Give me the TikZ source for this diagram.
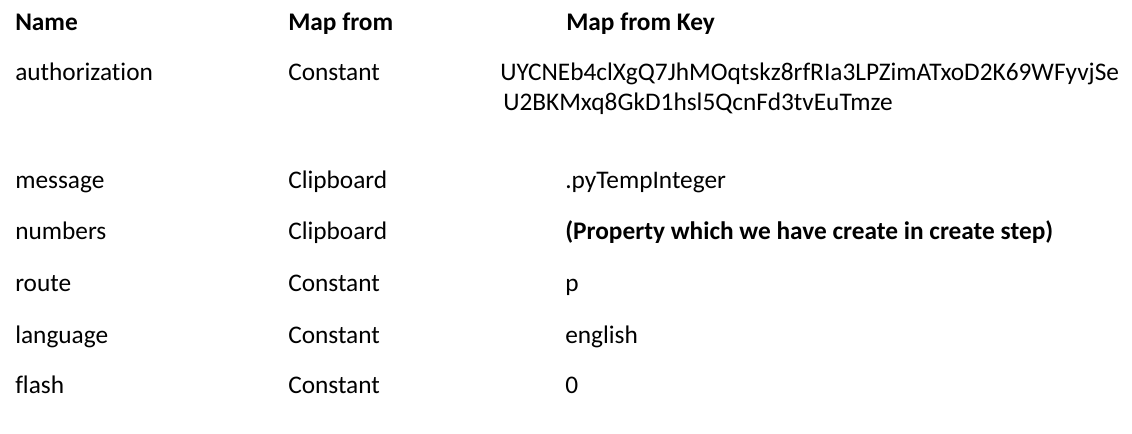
\documentclass[tikz,border=0pt]{standalone}
\usepackage{fontspec}
\setmainfont{Carlito}[RawFeature={-liga}]
\begin{document}
\begin{tikzpicture}[x=0.75pt,y=-0.75pt,
  cell/.style={anchor=base west,inner sep=0pt,font=\fontsize{19}{23}\selectfont},
  head/.style={cell,font=\fontsize{19}{23}\selectfont\bfseries}]
\useasboundingbox[fill=white] (0,0) rectangle (1132,433);
\node[head] (h1) at (15,30) {Name};
\node[head] (h2) at (288,30) {Map from};
\node[head] (h3) at (566,30) {Map from Key};
\node[cell] (n1) at (15,80) {authorization};
\node[cell] (m1) at (288,80) {Constant};
\node[cell] (k1) at (500,80) {UYCNEb4clXgQ7JhMOqtskz8rfRIa3LPZimATxoD2K69WFyvjSe};
\node[cell] (k1b) at (503,110) {U2BKMxq8GkD1hsl5QcnFd3tvEuTmze};
\node[cell] (n2) at (15,188) {message};
\node[cell] (m2) at (288,188) {Clipboard};
\node[cell] (k2) at (565,188) {.pyTempInteger};
\node[cell] (n3) at (15,239) {numbers};
\node[cell] (m3) at (288,239) {Clipboard};
\node[head] (k3) at (565,239) {(Property which we have create in create step)};
\node[cell] (n4) at (15,291) {route};
\node[cell] (m4) at (288,291) {Constant};
\node[cell] (k4) at (565,291) {p};
\node[cell] (n5) at (15,343) {language};
\node[cell] (m5) at (288,343) {Constant};
\node[cell] (k5) at (565,343) {english};
\node[cell] (n6) at (15,393) {flash};
\node[cell] (m6) at (288,393) {Constant};
\node[cell] (k6) at (565,393) {0};
\end{tikzpicture}
\end{document}
